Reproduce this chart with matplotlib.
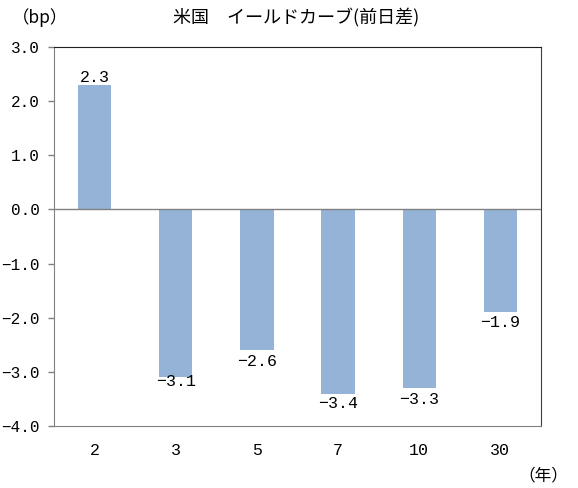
import matplotlib
matplotlib.use('Agg')
import matplotlib.pyplot as plt
import numpy as np

plt.rcParams['font.family'] = ['Noto Sans CJK JP', 'DejaVu Sans']

categories = ['2', '3', '5', '7', '10', '30']
values = [2.3, -3.1, -2.6, -3.4, -3.3, -1.9]
y_ticks = [3.0, 2.0, 1.0, 0.0, -1.0, -2.0, -3.0, -4.0]

num_font = ['Liberation Mono', 'DejaVu Sans Mono']


def fmt(v):
    return ('%.1f' % v).replace('-', '\u2212')


fig = plt.figure(figsize=(5.78, 4.88), dpi=100)
ax = fig.add_axes([54/578, 62/488, 487/578, 379/488])

x = np.arange(len(categories))
ax.bar(x, values, width=0.41, color='#95B3D7', zorder=2)
ax.axhline(0, color='#808080', linewidth=1, zorder=3)

# label offsets (points) above / below the bar end
label_dy = [5, -3, -8, -7.5, -8, -7]
for xi, v, dy in zip(x, values, label_dy):
    ax.annotate(fmt(v), (xi, v), xytext=(0, dy), textcoords='offset points',
                ha='center', va='center', fontsize=12, family=num_font, zorder=4)

ax.set_xlim(-0.5, len(categories) - 0.5)
ax.set_ylim(-4.0, 3.0)
ax.set_yticks(y_ticks)
ax.set_yticklabels([fmt(t) for t in y_ticks], fontsize=11.5, family=num_font)
ax.set_xticks(x)
ax.set_xticklabels(categories, fontsize=12, family=num_font)
ax.tick_params(axis='x', length=0, pad=12)
ax.tick_params(axis='y', length=4, width=1, color='#808080', pad=6)
ax.spines['left'].set_color('#808080')
ax.spines['bottom'].set_color('#808080')
ax.spines['top'].set_color('#202020')
ax.spines['right'].set_color('#404040')

fig.text(40/578, 1 - 18/488, '（bp）', ha='center', va='center', fontsize=12.5)
fig.text(296/578, 1 - 18/488, '米国\u3000イールドカーブ(前日差)', ha='center', va='center', fontsize=13)
fig.text(543/578, 1 - 476/488, '（年）', ha='center', va='center', fontsize=12)

fig.savefig('out.png', dpi=100)
